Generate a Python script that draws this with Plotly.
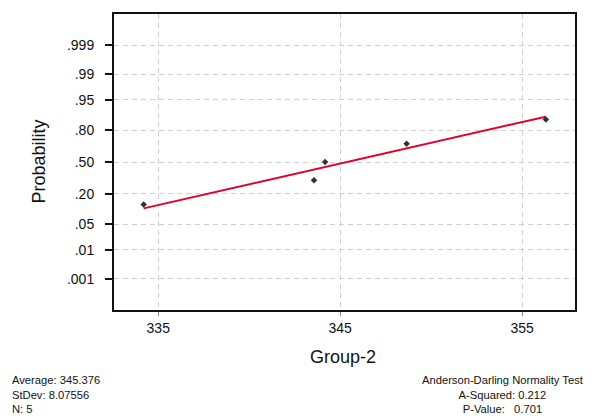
import numpy as np
import plotly.graph_objects as go
from statistics import NormalDist

# ---- data ----
values = [334.2, 343.56, 344.17, 348.65, 356.3]
prob_ticks = [0.001, 0.01, 0.05, 0.20, 0.50, 0.80, 0.95, 0.99, 0.999]
prob_tick_text = [".001", ".01", ".05", ".20", ".50", ".80", ".95", ".99", ".999"]
x_ticks = [335, 345, 355]
stats_left = ["Average: 345.376", "StDev: 8.07556", "N: 5"]
stats_right = ["Anderson-Darling Normality Test", "A-Squared: 0.212", "P-Value:   0.701"]

nd = NormalDist()
x = np.sort(np.array(values))
n = len(x)
ranks = (np.arange(1, n + 1) - 0.3) / (n + 0.4)
z = np.array([nd.inv_cdf(p) for p in ranks])
mean = x.mean()
slope = np.sum(z * (x - mean)) / np.sum(z * z)
line_x = np.array([x.min(), x.max()])
line_z = (line_x - mean) / slope

OFF = 8  # page body margin
W, H = 595 - OFF, 419 - OFF
L, R, T, B = 113.5 - OFF, 575 - OFF, 12 - OFF, 310 - OFF
def px(xp): return (xp - OFF - L) / (R - L)
def py(yp): return (B - (yp - OFF)) / (B - T)

fig = go.Figure()
fig.add_trace(go.Scatter(x=line_x, y=line_z, mode="lines",
                         line=dict(color="#e0002a", width=2), hoverinfo="skip"))
fig.add_trace(go.Scatter(x=x, y=z, mode="markers",
                         marker=dict(symbol="diamond", size=5, color="#333333")))

font = "Liberation Sans, Arial, sans-serif"
ann = []
ann.append(dict(text="<br>".join(stats_left), x=px(9), y=py(395.5), xref="paper", yref="paper",
                xanchor="left", yanchor="middle", align="left", showarrow=False,
                font=dict(family=font, size=11.2, color="#111")))
ann.append(dict(text="<br>".join(stats_right), x=px(503), y=py(395.5), xref="paper", yref="paper",
                xanchor="center", yanchor="middle", align="center", showarrow=False,
                font=dict(family=font, size=11.2, color="#111")))
ann.append(dict(text="Group-2", x=px(343), y=py(357), xref="paper", yref="paper",
                xanchor="center", yanchor="middle", showarrow=False,
                font=dict(family=font, size=18, color="#111")))
ann.append(dict(text="Probability", x=px(38), y=py(161), xref="paper", yref="paper",
                xanchor="center", yanchor="middle", showarrow=False, textangle=-90,
                font=dict(family=font, size=18, color="#111")))

fig.update_layout(
    width=W, height=H,
    margin=dict(l=L, r=W - R, t=T, b=H - B),
    paper_bgcolor="white", plot_bgcolor="white",
    showlegend=False,
    font=dict(family=font, size=14, color="#111"),
    annotations=ann,
    xaxis=dict(range=[332.57, 357.9], tickvals=x_ticks, ticktext=[str(v) for v in x_ticks],
               ticks="outside", ticklen=4, tickcolor="#888", tickwidth=1,
               showgrid=True, gridcolor="#cfcfcf", griddash="5px,4px", gridwidth=1,
               showline=True, linecolor="#111", linewidth=2, mirror=True,
               zeroline=False, tickfont=dict(size=14)),
    yaxis=dict(range=[-3.92, 3.92],
               tickvals=[nd.inv_cdf(p) for p in prob_ticks], ticktext=prob_tick_text,
               ticks="outside", ticklen=7, tickcolor="#111", tickwidth=1.5,
               ticklabelstandoff=8,
               showgrid=True, gridcolor="#cfcfcf", griddash="5px,4px", gridwidth=1,
               showline=True, linecolor="#111", linewidth=2, mirror=True,
               zeroline=False, tickfont=dict(size=14)),
)
fig.write_html("out.html")
